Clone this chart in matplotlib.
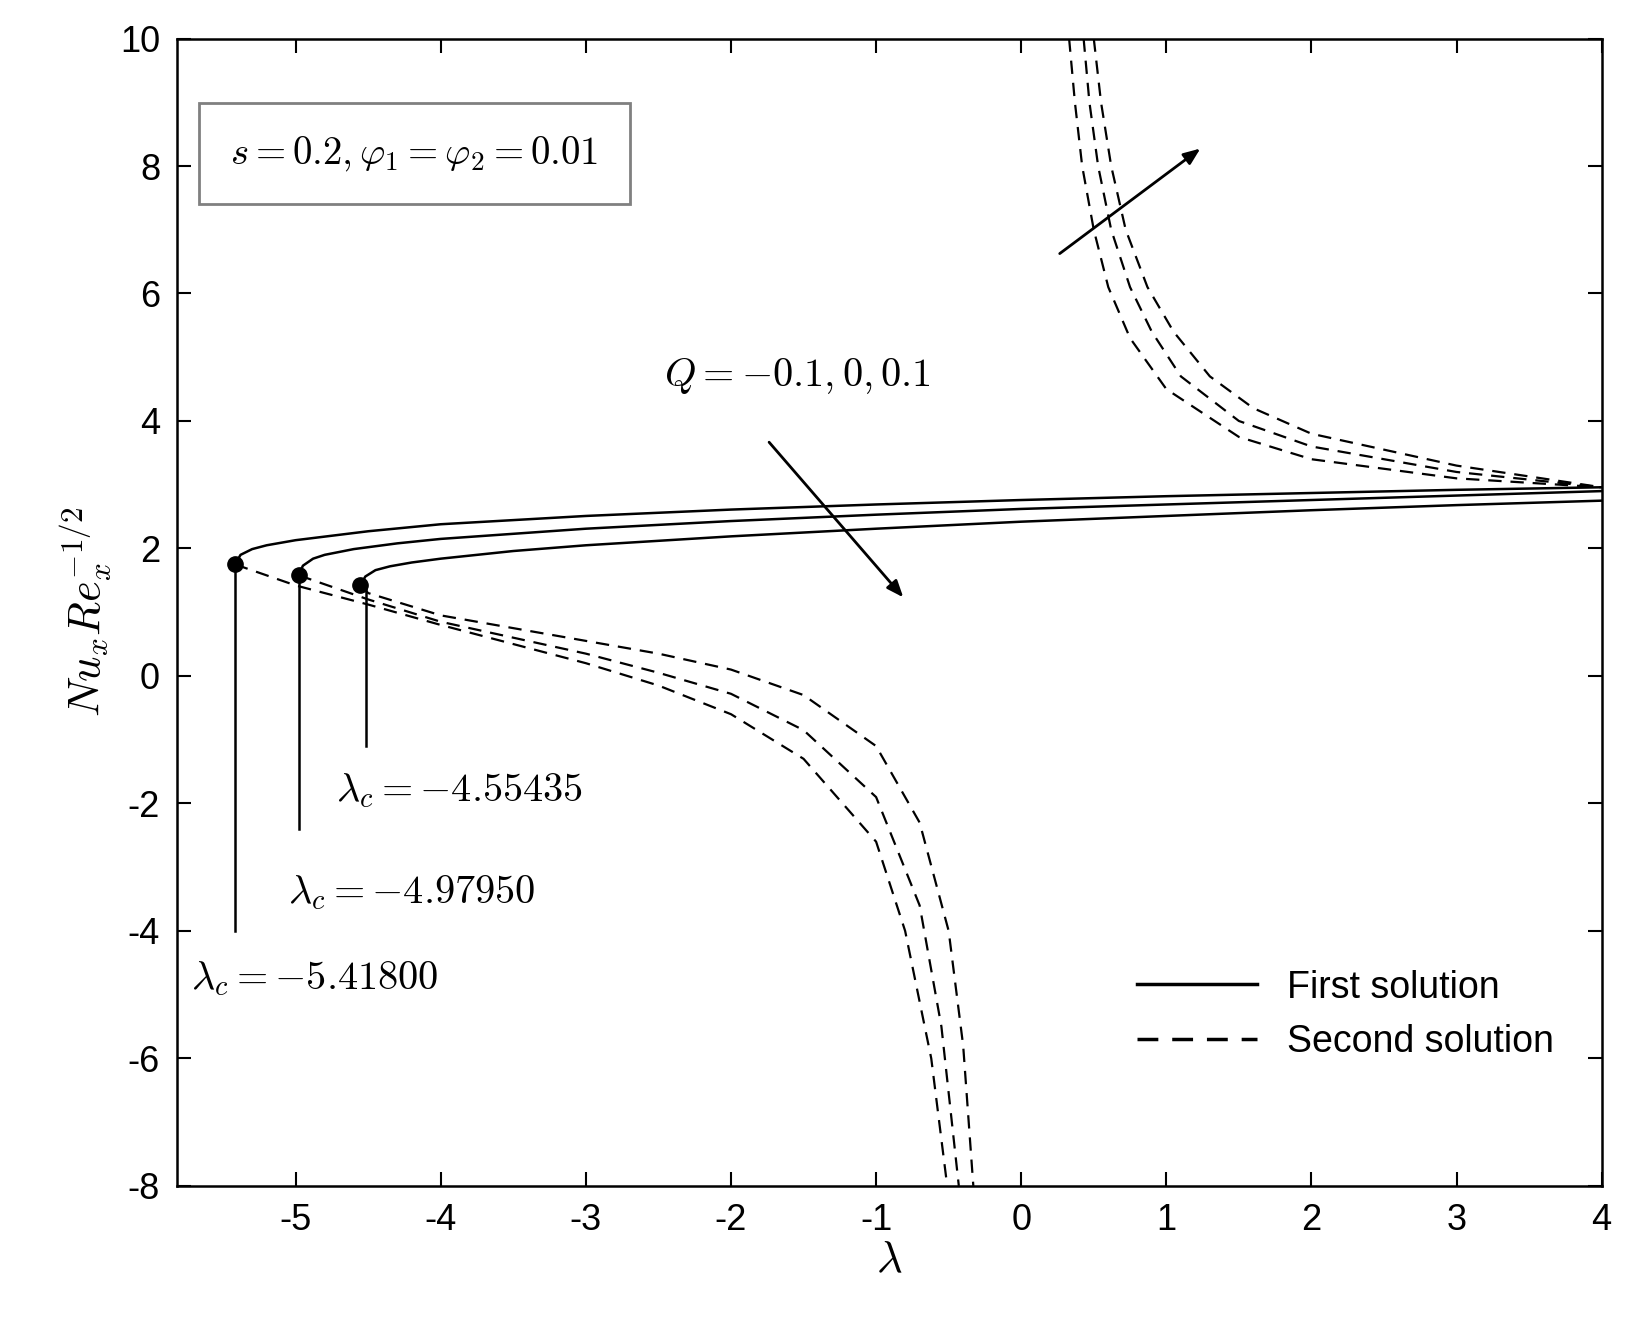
import matplotlib
matplotlib.use("Agg")
import matplotlib.pyplot as plt

plt.rcParams['font.family'] = ['Liberation Sans', 'DejaVu Sans']
plt.rcParams['mathtext.fontset'] = 'cm'

# critical points
lam_c = [-5.41800, -4.97950, -4.55435]
nu_c = [1.75, 1.58, 1.42]

# first solutions (solid)
s1_x = [-5.418, -5.38, -5.3, -5.2, -5.0, -4.5, -4.0, -3.0, -2.0, -1.0, 0.0, 1.0, 2.0, 3.0, 4.0]
s1_y = [1.75, 1.90, 1.99, 2.05, 2.13, 2.27, 2.38, 2.51, 2.61, 2.69, 2.76, 2.82, 2.87, 2.92, 2.96]
s2_x = [-4.9795, -4.95, -4.88, -4.8, -4.6, -4.3, -4.0, -3.0, -2.0, -1.0, 0.0, 1.0, 2.0, 3.0, 4.0]
s2_y = [1.58, 1.73, 1.84, 1.90, 1.99, 2.08, 2.15, 2.31, 2.43, 2.53, 2.62, 2.69, 2.76, 2.83, 2.90]
s3_x = [-4.55435, -4.52, -4.45, -4.35, -4.2, -4.0, -3.5, -3.0, -2.0, -1.0, 0.0, 1.0, 2.0, 3.0, 4.0]
s3_y = [1.42, 1.56, 1.66, 1.72, 1.78, 1.84, 1.96, 2.05, 2.19, 2.31, 2.42, 2.51, 2.60, 2.68, 2.75]

# second solutions, lower branch (dashed)
d1_x = [-5.418, -5.0, -4.5, -4.0, -3.5, -3.0, -2.5, -2.0, -1.5, -1.0, -0.8, -0.62, -0.51]
d1_y = [1.75, 1.42, 1.12, 0.80, 0.50, 0.20, -0.15, -0.60, -1.30, -2.60, -4.00, -6.00, -8.0]
d2_x = [-4.9795, -4.5, -4.0, -3.5, -3.0, -2.5, -2.0, -1.5, -1.0, -0.7, -0.55, -0.43]
d2_y = [1.58, 1.20, 0.85, 0.60, 0.35, 0.05, -0.28, -0.85, -1.90, -3.60, -5.50, -8.0]
d3_x = [-4.55435, -4.5, -4.0, -3.5, -3.0, -2.5, -2.0, -1.5, -1.0, -0.7, -0.5, -0.4, -0.33]
d3_y = [1.42, 1.30, 0.95, 0.75, 0.55, 0.35, 0.10, -0.30, -1.10, -2.30, -4.00, -5.80, -8.0]

# second solutions, upper branch (dashed)
u1_x = [0.33, 0.37, 0.42, 0.5, 0.6, 0.75, 1.0, 1.5, 2.0, 3.0, 4.0]
u1_y = [10.0, 9.0, 8.0, 7.0, 6.1, 5.3, 4.5, 3.75, 3.4, 3.1, 2.96]
u2_x = [0.43, 0.47, 0.53, 0.62, 0.75, 0.9, 1.1, 1.5, 2.0, 3.0, 4.0]
u2_y = [10.0, 9.0, 8.0, 7.0, 6.1, 5.4, 4.7, 4.0, 3.6, 3.2, 2.96]
u3_x = [0.5, 0.55, 0.62, 0.72, 0.87, 1.05, 1.3, 1.6, 2.0, 3.0, 4.0]
u3_y = [10.0, 9.0, 8.0, 7.0, 6.1, 5.4, 4.7, 4.2, 3.8, 3.3, 2.96]

label_bottoms = [-4.0, -2.4, -1.1]
label_pos = [(-5.72, -4.75), (-5.05, -3.4), (-4.72, -1.8)]

fig = plt.figure(figsize=(16.36, 13.28), dpi=100)
ax = fig.add_axes([0.108, 0.107, 0.871, 0.864])

for x, y in [(s1_x, s1_y), (s2_x, s2_y), (s3_x, s3_y)]:
    ax.plot(x, y, 'k-', lw=1.8)
for x, y in [(d1_x, d1_y), (d2_x, d2_y), (d3_x, d3_y), (u1_x, u1_y), (u2_x, u2_y), (u3_x, u3_y)]:
    ax.plot(x, y, 'k--', lw=1.6, dashes=(6, 4))
ax.plot(lam_c, nu_c, 'ko', ms=11)

for lc, nc, yb, (tx, ty) in zip(lam_c, nu_c, label_bottoms, label_pos):
    xv = lc + (0.04 if lc > -4.6 else 0.0)
    ax.plot([xv, xv], [nc, yb], 'k-', lw=1.8)
    ax.text(tx, ty, r'$\lambda_c=%.5f$' % lc, fontsize=29, va='center', ha='left')

ax.text(-5.45, 8.2, r'$s=0.2,\varphi_1=\varphi_2=0.01$', fontsize=28, va='center', ha='left',
        bbox=dict(boxstyle='square,pad=0.8', fc='white', ec='gray', lw=2))
ax.text(-2.46, 4.7, r'$Q=-0.1,0,0.1$', fontsize=29, va='center', ha='left')
ax.annotate('', xy=(-0.8, 1.2), xytext=(-1.75, 3.7),
            arrowprops=dict(arrowstyle='-|>,head_length=1.0,head_width=0.4', color='k', lw=2))
ax.annotate('', xy=(1.25, 8.3), xytext=(0.25, 6.6),
            arrowprops=dict(arrowstyle='-|>,head_length=1.0,head_width=0.4', color='k', lw=2))

ax.plot([], [], 'k-', lw=2.5, label='First solution')
ax.plot([], [], 'k--', lw=2.5, dashes=(6, 4), label='Second solution')
ax.legend(loc='lower right', fontsize=27, frameon=False, handlelength=3.2,
          bbox_to_anchor=(0.99, 0.08))

ax.set_xlim(-5.82, 4)
ax.set_ylim(-8, 10)
ax.set_xticks(range(-5, 5))
ax.set_yticks(range(-8, 11, 2))
ax.set_xticklabels([str(v) for v in range(-5, 5)])
ax.set_yticklabels([str(v) for v in range(-8, 11, 2)])
ax.tick_params(direction='in', length=10, width=1.5, labelsize=26, top=True, right=True, pad=12)
for s in ax.spines.values():
    s.set_linewidth(1.8)
ax.set_xlabel(r'$\lambda$', fontsize=32, labelpad=2)
ax.set_ylabel(r'$Nu_xRe_x^{-1/2}$', fontsize=32, labelpad=4)

fig.savefig('out.png', dpi=100)
